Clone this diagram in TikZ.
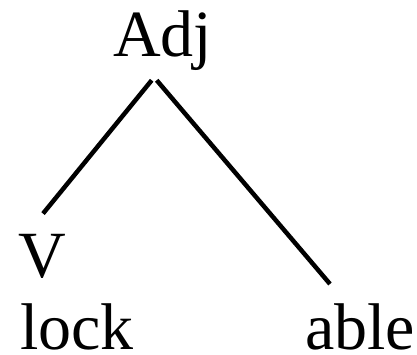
\documentclass[tikz,border=0pt]{standalone}
\usepackage{fontspec}
\setmainfont{Liberation Serif}
\begin{document}
\begin{tikzpicture}[x=1pt, y=-1pt,
    word/.style={inner sep=0pt, anchor=base west, font=\fontsize{66}{66}\selectfont},
    branch/.style={line width=4.5pt}]
    \useasboundingbox (0, 0) rectangle (417, 355);

    \node (adj)  at (113, 57)  [word] {Adj};
    \node (v)    at (18, 277)  [word] {V};
    \node (lock) at (20, 349)  [word] {lock};
    \node (able) at (305, 349) [word] {able};

    \draw[branch] ([xshift=-11pt, yshift=-9pt]adj.south) -- ([xshift=1pt, yshift=20pt]v.north);
    \draw[branch] ([xshift=-6pt, yshift=-9pt]adj.south) -- ([xshift=25pt, yshift=19pt]able.north west);
\end{tikzpicture}
\end{document}
